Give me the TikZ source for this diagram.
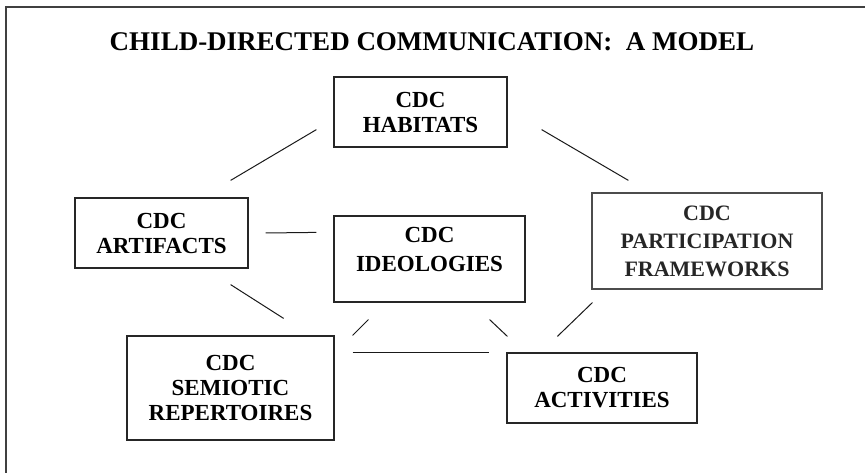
\documentclass[tikz,border=0pt]{standalone}
\usepackage{fontspec}
\setmainfont{Liberation Serif}
\begin{document}
\begin{tikzpicture}[x=1pt,y=-1pt,
  frame/.style={line width=2pt, draw=black!75},
  cdcbox/.style={draw=black!85, line width=1.2pt, inner sep=0pt, align=center,
    font=\fontsize{23}{25}\selectfont\bfseries},
  link/.style={line width=1pt, draw=black!90},
]
\useasboundingbox (0,0) rectangle (865,473);

% outer frame (open on the right and bottom)
\draw[frame] (6,473) -- (6,7.5) -- (865,7.5);

% title
\node[anchor=base, inner sep=0pt, font=\fontsize{27}{30}\selectfont\bfseries] (title)
  at (432,51) {CHILD-DIRECTED COMMUNICATION:\ \ A MODEL};

% the six CDC components
\node[cdcbox, minimum width=173pt, minimum height=70pt] (hab) at (420.5,112) {CDC\\HABITATS};
\node[cdcbox, minimum width=173pt, minimum height=70pt] (art) at (161.5,233) {CDC\\ARTIFACTS};
\node[cdcbox, minimum width=191pt, minimum height=86pt] (ideo) at (429.5,259) {CDC\\[4pt]IDEOLOGIES\\[-5pt]~};
\node[cdcbox, draw=black!70, text=black!85, minimum width=230pt, minimum height=96pt,
  font=\fontsize{22}{28}\selectfont\bfseries] (part) at (707,241) {CDC\\PARTICIPATION\\FRAMEWORKS};
\node[cdcbox, minimum width=207pt, minimum height=104pt] (sem) at (230.5,388) {CDC\\SEMIOTIC\\REPERTOIRES};
\node[cdcbox, minimum width=190pt, minimum height=70pt] (act) at (602,388) {CDC\\ACTIVITIES};

% connecting lines, drawn with gaps at both ends
\draw[link] ([shift={(-17,-18)}]hab.south west) -- ([shift={(-18,-17)}]art.north east);
\draw[link] ([shift={(34,-18)}]hab.south east) -- ([shift={(37,-12)}]part.north west);
\draw[link] ([shift={(17,0)}]art.east) -- ([shift={(-17,17)}]ideo.north west);
\draw[link] ([shift={(-18,16)}]art.south east) -- ([shift={(-51,-17)}]sem.north east);
\draw[link] ([shift={(18,0)}]sem.north east) -- ([shift={(35,17)}]ideo.south west);
\draw[link] ([shift={(18,17)}]sem.north east) -- ([shift={(-17,0)}]act.north west);
\draw[link] ([shift={(-36,17)}]ideo.south east) -- ([shift={(1,-16)}]act.north west);
\draw[link] ([shift={(1,13)}]part.south west) -- ([shift={(51,-16)}]act.north west);
\end{tikzpicture}
\end{document}
